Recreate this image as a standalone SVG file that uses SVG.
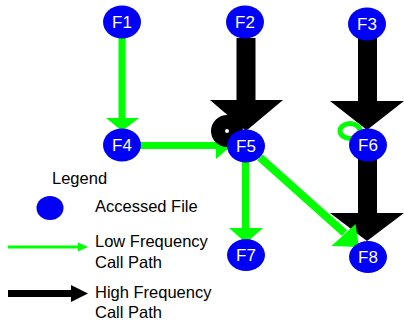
<svg xmlns="http://www.w3.org/2000/svg" width="404" height="324" viewBox="0 0 404 324">
<style>
.node{fill:#0000f5}
.lbl{fill:#fff;font-family:"Liberation Sans",Arial,sans-serif;font-size:17px;text-anchor:middle}
.low{fill:#00ff00}
.high{fill:#000}
.txt{fill:#000;font-family:"Liberation Sans",Arial,sans-serif;font-size:16.5px}
</style>
<rect width="404" height="324" fill="#fff"/>
<g id="connectors">
<!-- F1 -> F4 low -->
<rect class="low" x="118.5" y="36" width="7" height="84"/>
<polygon class="low" points="106,118 139,118 122,131"/>
<!-- F4 -> F5 low -->
<rect class="low" x="138" y="142" width="80" height="7"/>
<polygon class="low" points="216,133 216,159 231,146"/>
<!-- F2 -> F5 high -->
<rect class="high" x="236.5" y="38" width="19" height="64"/>
<polygon class="high" points="210,100 283,100 246,131"/>
<!-- F5 self loop high -->
<circle cx="227" cy="131" r="9" fill="none" stroke="#000" stroke-width="14"/>
<!-- F3 -> F6 high -->
<rect class="high" x="358" y="38" width="19" height="64"/>
<polygon class="high" points="330,101 404,101 367,130"/>
<!-- F6 self loop low -->
<ellipse cx="350" cy="131" rx="10" ry="7.5" fill="none" stroke="#00ff00" stroke-width="5"/>
<!-- F6 -> F8 high -->
<rect class="high" x="358" y="158" width="19" height="57"/>
<polygon class="high" points="330,213 404,213 367,241"/>
<!-- F5 -> F7 low -->
<rect class="low" x="242" y="160" width="7" height="70"/>
<polygon class="low" points="229,228 263,228 246,243"/>
<!-- F5 -> F8 low -->
<polygon class="low" points="257.4,160.4 262.6,154.6 347,230 342,236"/>
<polygon class="low" points="331.5,246 355.5,224 359,247"/>
</g>
<g id="F1"><ellipse class="node" cx="122" cy="22" rx="19" ry="16.5"/><text class="lbl" x="122" y="28">F1</text></g>
<g id="F2"><ellipse class="node" cx="245" cy="22" rx="19" ry="16.5"/><text class="lbl" x="245" y="28">F2</text></g>
<g id="F3"><ellipse class="node" cx="367" cy="24" rx="19" ry="16.5"/><text class="lbl" x="367" y="30">F3</text></g>
<g id="F4"><ellipse class="node" cx="122" cy="145" rx="19" ry="16.5"/><text class="lbl" x="122" y="151">F4</text></g>
<g id="F5"><ellipse class="node" cx="246" cy="146" rx="19" ry="16.5"/><text class="lbl" x="246" y="152">F5</text></g>
<g id="F6"><ellipse class="node" cx="368" cy="145" rx="19" ry="16.5"/><text class="lbl" x="368" y="151">F6</text></g>
<g id="F7"><ellipse class="node" cx="246" cy="255" rx="19" ry="16"/><text class="lbl" x="246" y="261">F7</text></g>
<g id="F8"><ellipse class="node" cx="368" cy="257" rx="19" ry="16"/><text class="lbl" x="368" y="263">F8</text></g>
<g id="legend">
<text class="txt" x="52" y="184">Legend</text>
<ellipse class="node" cx="50" cy="208" rx="13.5" ry="12"/>
<text class="txt" x="95" y="212">Accessed File</text>
<rect class="low" x="8" y="245.5" width="72" height="3"/>
<polygon class="low" points="78,242.5 78,251.5 88,247"/>
<text class="txt" x="95" y="247">Low Frequency</text>
<text class="txt" x="95" y="268">Call Path</text>
<rect class="high" x="8" y="290" width="65" height="7"/>
<polygon class="high" points="71,285 71,302 88,293.5"/>
<text class="txt" x="95" y="298">High Frequency</text>
<text class="txt" x="95" y="318">Call Path</text>
</g>
</svg>
